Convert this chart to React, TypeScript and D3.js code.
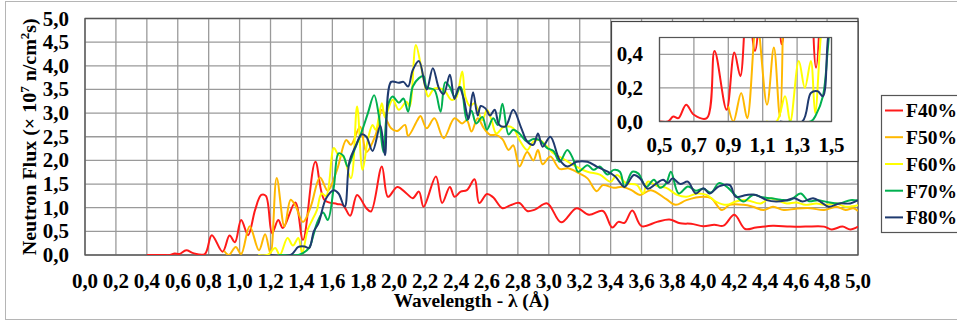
import React from 'react';
import * as d3 from 'd3';

type P = [number, number];

const SERIES_NAMES = ['F40%', 'F50%', 'F60%', 'F70%', 'F80%'];
const SERIES_COLORS = ['#ff1a1a', '#ffb800', '#ffff00', '#00b050', '#1f3a6f'];

const X_TICKS = [0, 0.2, 0.4, 0.6, 0.8, 1.0, 1.2, 1.4, 1.6, 1.8, 2.0, 2.2, 2.4, 2.6, 2.8, 3.0, 3.2, 3.4, 3.6, 3.8, 4.0, 4.2, 4.4, 4.6, 4.8, 5.0];
const Y_TICKS = [0, 0.5, 1.0, 1.5, 2.0, 2.5, 3.0, 3.5, 4.0, 4.5, 5.0];
const INSET_X_TICKS = [0.5, 0.7, 0.9, 1.1, 1.3, 1.5];
const INSET_Y_TICKS = [0, 0.2, 0.4];

const F40: P[] = [[0.40,0],[0.50,0],[0.55,0],[0.58,0.03],[0.61,0.02],[0.655,0.10],[0.70,0.04],[0.775,0.02],[0.82,0.42],[0.89,0.07],[0.935,0.41],[0.97,0.27],[1.01,0.74],[1.055,0.42],[1.10,0.95],[1.14,1.27],[1.17,1.25],[1.21,0.46],[1.25,0.74],[1.28,0.57],[1.36,1.11],[1.41,0.32],[1.49,1.97],[1.55,1.16],[1.63,1.08],[1.67,1.05],[1.715,0.83],[1.76,1.27],[1.82,0.99],[1.85,0.92],[1.92,1.87],[1.96,1.23],[2.02,1.44],[2.08,1.30],[2.12,1.20],[2.16,1.34],[2.19,1.02],[2.27,1.66],[2.31,1.10],[2.36,1.44],[2.39,1.23],[2.43,1.34],[2.47,1.37],[2.52,1.60],[2.55,1.10],[2.60,1.29],[2.64,1.22],[2.70,0.99],[2.75,1.05],[2.81,1.10],[2.86,0.93],[2.91,0.96],[2.99,1.09],[3.08,0.69],[3.18,0.99],[3.26,0.85],[3.35,0.93],[3.41,0.58],[3.45,0.70],[3.49,0.68],[3.54,0.94],[3.60,0.61],[3.70,0.70],[3.78,0.75],[3.85,0.67],[3.92,0.66],[4.00,0.61],[4.07,0.64],[4.13,0.62],[4.20,0.85],[4.27,0.55],[4.34,0.58],[4.45,0.62],[4.56,0.60],[4.66,0.60],[4.78,0.60],[4.83,0.54],[4.90,0.60],[4.95,0.54],[5.00,0.60]];

const F50: P[] = [[0.90,0.09],[0.93,0.0],[0.975,0.17],[1.01,0.02],[1.065,0.61],[1.125,0.10],[1.165,0.44],[1.20,0.03],[1.24,1.63],[1.29,0.60],[1.33,1.17],[1.36,1.05],[1.41,0.70],[1.46,1.02],[1.52,1.64],[1.57,1.36],[1.63,1.80],[1.69,2.43],[1.72,2.33],[1.78,2.71],[1.82,2.18],[1.88,2.54],[1.92,3.07],[1.95,2.86],[1.98,2.68],[2.02,2.62],[2.07,2.75],[2.09,2.52],[2.15,2.85],[2.17,2.94],[2.21,2.68],[2.26,2.89],[2.32,2.47],[2.39,2.89],[2.44,2.78],[2.47,2.85],[2.50,2.61],[2.54,2.89],[2.58,2.68],[2.62,2.54],[2.66,2.54],[2.70,2.45],[2.74,2.22],[2.77,2.32],[2.81,1.87],[2.86,2.18],[2.90,2.00],[2.93,2.22],[2.96,1.92],[3.01,2.08],[3.07,1.82],[3.13,1.83],[3.20,1.72],[3.25,1.62],[3.31,1.35],[3.35,1.48],[3.42,1.42],[3.48,1.44],[3.54,1.36],[3.59,1.27],[3.66,1.37],[3.76,1.18],[3.82,1.06],[3.89,1.16],[4.00,1.23],[4.05,1.20],[4.12,0.95],[4.17,1.06],[4.26,1.06],[4.32,1.02],[4.39,0.95],[4.45,1.02],[4.52,0.95],[4.60,0.98],[4.69,0.99],[4.78,0.95],[4.86,1.02],[4.92,0.95],[4.97,0.99],[5.00,0.93]];

const F60: P[] = [[1.12,0],[1.18,0],[1.23,0.15],[1.26,0.0],[1.31,0.36],[1.345,0.20],[1.38,0.36],[1.405,0.05],[1.44,0.53],[1.47,0.74],[1.50,0.95],[1.53,1.30],[1.56,1.25],[1.61,2.26],[1.64,2.11],[1.67,2.08],[1.72,1.62],[1.76,3.14],[1.795,1.80],[1.83,2.45],[1.86,2.75],[1.88,2.65],[1.92,3.21],[1.94,2.92],[1.99,3.28],[2.03,3.07],[2.08,3.24],[2.10,3.14],[2.14,4.44],[2.17,4.05],[2.20,3.56],[2.22,3.35],[2.26,3.52],[2.32,3.49],[2.37,3.28],[2.40,3.32],[2.44,3.88],[2.46,3.35],[2.49,3.15],[2.52,3.21],[2.57,2.85],[2.60,3.07],[2.63,2.85],[2.66,2.57],[2.71,2.71],[2.77,2.68],[2.81,2.43],[2.86,2.22],[2.90,2.40],[2.94,2.43],[2.99,2.29],[3.03,2.15],[3.09,2.04],[3.16,1.90],[3.25,1.76],[3.33,1.70],[3.40,1.55],[3.44,1.69],[3.50,1.52],[3.57,1.48],[3.61,1.30],[3.64,1.55],[3.70,1.46],[3.76,1.42],[3.83,1.27],[3.89,1.23],[3.96,1.30],[4.02,1.27],[4.08,1.13],[4.15,1.06],[4.21,1.13],[4.28,1.16],[4.37,1.09],[4.43,1.20],[4.49,1.14],[4.54,1.09],[4.60,1.11],[4.66,1.06],[4.73,1.09],[4.79,1.06],[4.86,1.09],[4.92,1.02],[5.00,1.05]];

const F70: P[] = [[1.25,0],[1.38,0],[1.41,0.04],[1.45,0.15],[1.48,0.45],[1.50,0.67],[1.54,0.90],[1.57,0.74],[1.61,1.45],[1.64,2.15],[1.67,2.10],[1.70,1.87],[1.74,2.20],[1.79,2.61],[1.83,3.0],[1.87,3.38],[1.90,2.96],[1.93,2.18],[1.96,3.17],[1.99,3.35],[2.03,3.22],[2.06,3.31],[2.09,3.03],[2.12,3.56],[2.16,3.74],[2.19,3.78],[2.21,3.55],[2.26,3.49],[2.30,3.03],[2.33,3.65],[2.36,3.55],[2.39,3.35],[2.43,3.55],[2.47,2.85],[2.50,3.05],[2.53,2.78],[2.57,2.92],[2.60,2.65],[2.64,2.89],[2.67,2.75],[2.70,3.20],[2.74,2.55],[2.77,2.65],[2.81,2.57],[2.86,2.40],[2.90,2.45],[2.94,2.43],[2.99,2.26],[3.03,2.20],[3.07,1.97],[3.12,2.22],[3.16,2.01],[3.19,1.76],[3.25,1.90],[3.29,1.80],[3.33,1.87],[3.38,1.70],[3.42,1.80],[3.46,1.76],[3.49,1.44],[3.54,1.76],[3.58,1.72],[3.63,1.44],[3.68,1.59],[3.72,1.42],[3.76,1.52],[3.79,1.76],[3.84,1.30],[3.90,1.45],[3.95,1.36],[4.00,1.40],[4.05,1.32],[4.10,1.52],[4.16,1.42],[4.21,1.25],[4.26,1.13],[4.32,1.27],[4.38,1.22],[4.44,1.20],[4.50,1.17],[4.56,1.16],[4.63,1.30],[4.68,1.14],[4.74,1.16],[4.80,1.12],[4.88,1.09],[4.95,1.16],[5.00,1.15]];

const F80: P[] = [[1.20,0],[1.33,0],[1.38,0.17],[1.42,0.18],[1.45,0.15],[1.48,0.50],[1.51,0.67],[1.56,1.20],[1.61,1.37],[1.64,1.30],[1.68,1.02],[1.71,1.97],[1.75,2.30],[1.79,2.55],[1.82,2.50],[1.86,2.20],[1.91,2.73],[1.94,2.11],[1.98,3.66],[2.03,3.64],[2.06,3.66],[2.09,3.56],[2.12,3.91],[2.16,4.10],[2.21,3.50],[2.25,3.95],[2.29,3.52],[2.32,3.40],[2.36,3.81],[2.39,3.30],[2.42,3.55],[2.45,3.30],[2.48,2.87],[2.51,3.44],[2.54,2.95],[2.56,3.15],[2.59,3.10],[2.62,2.95],[2.65,3.07],[2.68,2.75],[2.72,2.72],[2.77,3.07],[2.82,2.70],[2.86,2.40],[2.90,2.33],[2.93,2.57],[2.96,2.29],[3.01,2.50],[3.07,2.01],[3.12,1.87],[3.18,1.97],[3.25,1.97],[3.31,1.87],[3.37,1.78],[3.43,1.66],[3.49,1.44],[3.55,1.69],[3.59,1.62],[3.64,1.40],[3.69,1.50],[3.74,1.59],[3.77,1.52],[3.80,1.62],[3.85,1.50],[3.90,1.55],[3.95,1.30],[4.00,1.41],[4.04,1.30],[4.10,1.45],[4.17,1.48],[4.21,1.23],[4.28,1.27],[4.34,1.27],[4.41,1.16],[4.47,1.13],[4.53,1.15],[4.59,1.20],[4.64,1.13],[4.71,1.20],[4.76,1.12],[4.81,1.02],[4.88,1.09],[4.95,1.09],[5.00,1.16]];

const SERIES_DATA = [F40, F50, F60, F70, F80];

const FONT = "'Liberation Serif','Times New Roman',serif";

const fmt = (v: number, d: number) => v.toFixed(d).replace('.', ',');

function T(props: { x: number; y: number; anchor?: string; size?: number; sx?: number; children: React.ReactNode }) {
  const { x, y, anchor = 'middle', size = 20, sx = 1.05, children } = props;
  return (
    <text
      transform={`translate(${x},${y}) scale(${sx},1)`}
      textAnchor={anchor}
      dy="0.35em"
      fontFamily={FONT}
      fontWeight="bold"
      fontSize={size}
      fill="#000"
    >
      {children}
    </text>
  );
}

export default function App() {
  const L = 85, R = 858, TOP = 18.5, BOT = 255;
  const x = d3.scaleLinear().domain([0, 5]).range([L, R]);
  const y = d3.scaleLinear().domain([0, 5]).range([BOT, TOP]);

  const IL = 659.5, IR = 831.5, IT = 37.5, IB = 121.5;
  const ix = d3.scaleLinear().domain([0.5, 1.5]).range([IL, IR]);
  const iy = d3.scaleLinear().domain([0, 0.5]).range([IB, IT]);

  const mainLine = d3.line<P>().x(d => x(d[0])).y(d => y(d[1])).curve(d3.curveCatmullRom.alpha(0.5));
  const insetLine = d3.line<P>().x(d => ix(d[0])).y(d => iy(d[1])).curve(d3.curveCatmullRom.alpha(0.5));

  const gridColor = '#9a9a9a';
  const legendY = [110.5, 137.2, 164, 190.7, 217.4];

  return (
    <svg width={957} height={323} style={{ position: 'absolute', left: 0, top: 0, background: '#fff' }}>
      <defs>
        <clipPath id="mainClip"><rect x={L} y={TOP} width={R - L} height={BOT - TOP} /></clipPath>
        <clipPath id="insetClip"><rect x={IL} y={IT} width={IR - IL} height={IB - IT} /></clipPath>
      </defs>
      <rect x={0} y={0} width={957} height={323} fill="#fff" />
      <rect x={5.5} y={1.5} width={1000} height={318} fill="none" stroke="#b5b5b5" strokeWidth={1} />

      {X_TICKS.map((t, i) => (
        <line key={'gx' + i} x1={x(t)} x2={x(t)} y1={TOP} y2={BOT} stroke={gridColor} strokeWidth={1.3} />
      ))}
      {Y_TICKS.map((t, i) => (
        <line key={'gy' + i} x1={L} x2={R} y1={y(t)} y2={y(t)} stroke={gridColor} strokeWidth={1.3} />
      ))}
      <rect x={L} y={TOP} width={R - L} height={BOT - TOP} fill="none" stroke="#555" strokeWidth={1.3} />

      <g clipPath="url(#mainClip)">
        {SERIES_DATA.map((d, i) => (
          <path key={'s' + i} d={mainLine(d) || ''} fill="none" stroke={SERIES_COLORS[i]} strokeWidth={2} strokeLinejoin="round" />
        ))}
      </g>

      {Y_TICKS.map((t, i) => (
        <T key={'yl' + i} x={69} y={y(t)} anchor="end">{fmt(t, 1)}</T>
      ))}
      {X_TICKS.map((t, i) => (
        <T key={'xl' + i} x={x(t)} y={281}>{fmt(t, 1)}</T>
      ))}
      <T x={(L + R) / 2} y={301} size={18.5} sx={1.05}>Wavelength - λ (Å)</T>
      <text
        transform={`translate(30,${(TOP + BOT) / 2}) rotate(-90) scale(1.08,1)`}
        textAnchor="middle"
        dy="0.35em"
        fontFamily={FONT}
        fontWeight="bold"
        fontSize={18.5}
      >
        Neutron Flux (× 10<tspan dy={-7} fontSize={12}>7</tspan><tspan dy={7}> n/cm</tspan><tspan dy={-7} fontSize={12}>2</tspan><tspan dy={7}>s)</tspan>
      </text>

      <rect x={611.5} y={21.5} width={246.5} height={140} fill="#fff" stroke="#444" strokeWidth={1.2} />
      {INSET_X_TICKS.map((t, i) => (
        <line key={'igx' + i} x1={ix(t)} x2={ix(t)} y1={IT} y2={IB} stroke={gridColor} strokeWidth={1.3} />
      ))}
      {INSET_Y_TICKS.map((t, i) => (
        <line key={'igy' + i} x1={IL} x2={IR} y1={iy(t)} y2={iy(t)} stroke={gridColor} strokeWidth={1.3} />
      ))}
      <g clipPath="url(#insetClip)">
        {SERIES_DATA.map((d, i) => (
          <path key={'is' + i} d={insetLine(d) || ''} fill="none" stroke={SERIES_COLORS[i]} strokeWidth={2} strokeLinejoin="round" />
        ))}
      </g>
      <rect x={IL} y={IT} width={IR - IL} height={IB - IT} fill="none" stroke="#555" strokeWidth={1.2} />
      {INSET_Y_TICKS.map((t, i) => (
        <T key={'iyl' + i} x={643} y={iy(t)} anchor="end">{fmt(t, 1)}</T>
      ))}
      {INSET_X_TICKS.map((t, i) => (
        <T key={'ixl' + i} x={ix(t)} y={145}>{fmt(t, 1)}</T>
      ))}

      <rect x={881.5} y={95.5} width={120} height={137} fill="#fff" stroke="#555" strokeWidth={1.2} />
      {SERIES_NAMES.map((n, i) => (
        <g key={'lg' + i}>
          <line x1={885} x2={903} y1={legendY[i]} y2={legendY[i]} stroke={SERIES_COLORS[i]} strokeWidth={2} />
          <T x={906} y={legendY[i]} anchor="start" size={19.5} sx={1.0}>{n}</T>
        </g>
      ))}
    </svg>
  );
}
